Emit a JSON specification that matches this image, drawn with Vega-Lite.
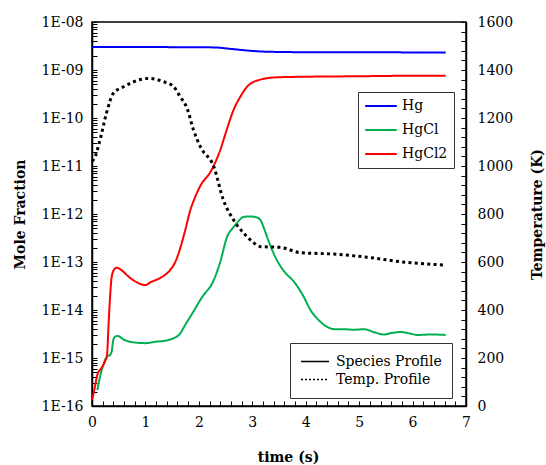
{
  "$schema": "https://vega.github.io/schema/vega-lite/v6.json",
  "width": 374,
  "height": 384,
  "autosize": {"type": "none"},
  "padding": {"left": 92, "top": 22, "right": 80, "bottom": 59},
  "background": "white",
  "config": {
    "font": "DejaVu Serif",
    "view": {"stroke": "black", "strokeWidth": 1.5},
    "axis": {
      "grid": false,
      "domainColor": "black",
      "domainWidth": 1.5,
      "tickColor": "black",
      "tickWidth": 1,
      "tickSize": -5,
      "labelColor": "black",
      "labelFont": "DejaVu Serif",
      "labelFontSize": 14,
      "labelOverlap": false,
      "labelBound": false,
      "labelFlush": false,
      "titleColor": "black",
      "titleFont": "DejaVu Serif",
      "titleFontSize": 14,
      "titleFontWeight": "bold"
    },
    "legend": {
      "labelFont": "DejaVu Serif",
      "labelColor": "black",
      "strokeColor": "#333",
      "fillColor": "white",
      "cornerRadius": 0
    }
  },
  "datasets": {
    "species": [
      {"species": "Hg", "t": 0, "fraction": 3.0e-9},
      {"species": "Hg", "t": 1, "fraction": 3.0e-9},
      {"species": "Hg", "t": 2, "fraction": 2.98e-9},
      {"species": "Hg", "t": 2.3, "fraction": 2.95e-9},
      {"species": "Hg", "t": 2.6, "fraction": 2.75e-9},
      {"species": "Hg", "t": 2.9, "fraction": 2.55e-9},
      {"species": "Hg", "t": 3.2, "fraction": 2.42e-9},
      {"species": "Hg", "t": 3.6, "fraction": 2.37e-9},
      {"species": "Hg", "t": 4.5, "fraction": 2.33e-9},
      {"species": "Hg", "t": 5.5, "fraction": 2.33e-9},
      {"species": "Hg", "t": 6.62, "fraction": 2.32e-9},

      {"species": "HgCl", "t": 0.1, "fraction": 2.14e-16},
      {"species": "HgCl", "t": 0.15, "fraction": 4.07e-16},
      {"species": "HgCl", "t": 0.2, "fraction": 6.61e-16},
      {"species": "HgCl", "t": 0.28, "fraction": 1.07e-15},
      {"species": "HgCl", "t": 0.34, "fraction": 1.17e-15},
      {"species": "HgCl", "t": 0.37, "fraction": 1.41e-15},
      {"species": "HgCl", "t": 0.4, "fraction": 2.40e-15},
      {"species": "HgCl", "t": 0.44, "fraction": 2.82e-15},
      {"species": "HgCl", "t": 0.48, "fraction": 2.88e-15},
      {"species": "HgCl", "t": 0.6, "fraction": 2.40e-15},
      {"species": "HgCl", "t": 0.75, "fraction": 2.14e-15},
      {"species": "HgCl", "t": 1.0, "fraction": 2.04e-15},
      {"species": "HgCl", "t": 1.2, "fraction": 2.19e-15},
      {"species": "HgCl", "t": 1.37, "fraction": 2.29e-15},
      {"species": "HgCl", "t": 1.5, "fraction": 2.51e-15},
      {"species": "HgCl", "t": 1.65, "fraction": 3.24e-15},
      {"species": "HgCl", "t": 1.75, "fraction": 5.01e-15},
      {"species": "HgCl", "t": 1.84, "fraction": 7.24e-15},
      {"species": "HgCl", "t": 2.05, "fraction": 1.78e-14},
      {"species": "HgCl", "t": 2.28, "fraction": 4.22e-14},
      {"species": "HgCl", "t": 2.4, "fraction": 1.0e-13},
      {"species": "HgCl", "t": 2.53, "fraction": 3.39e-13},
      {"species": "HgCl", "t": 2.63, "fraction": 5.01e-13},
      {"species": "HgCl", "t": 2.71, "fraction": 6.46e-13},
      {"species": "HgCl", "t": 2.84, "fraction": 8.71e-13},
      {"species": "HgCl", "t": 2.95, "fraction": 8.91e-13},
      {"species": "HgCl", "t": 3.08, "fraction": 8.51e-13},
      {"species": "HgCl", "t": 3.15, "fraction": 7.59e-13},
      {"species": "HgCl", "t": 3.22, "fraction": 5.01e-13},
      {"species": "HgCl", "t": 3.3, "fraction": 2.82e-13},
      {"species": "HgCl", "t": 3.46, "fraction": 1.10e-13},
      {"species": "HgCl", "t": 3.6, "fraction": 6.31e-14},
      {"species": "HgCl", "t": 3.78, "fraction": 3.89e-14},
      {"species": "HgCl", "t": 3.95, "fraction": 2.0e-14},
      {"species": "HgCl", "t": 4.09, "fraction": 1.0e-14},
      {"species": "HgCl", "t": 4.25, "fraction": 6.03e-15},
      {"species": "HgCl", "t": 4.4, "fraction": 4.47e-15},
      {"species": "HgCl", "t": 4.55, "fraction": 3.98e-15},
      {"species": "HgCl", "t": 4.71, "fraction": 3.98e-15},
      {"species": "HgCl", "t": 4.9, "fraction": 3.89e-15},
      {"species": "HgCl", "t": 5.09, "fraction": 3.98e-15},
      {"species": "HgCl", "t": 5.3, "fraction": 3.39e-15},
      {"species": "HgCl", "t": 5.46, "fraction": 3.09e-15},
      {"species": "HgCl", "t": 5.6, "fraction": 3.31e-15},
      {"species": "HgCl", "t": 5.78, "fraction": 3.47e-15},
      {"species": "HgCl", "t": 5.95, "fraction": 3.24e-15},
      {"species": "HgCl", "t": 6.09, "fraction": 3.02e-15},
      {"species": "HgCl", "t": 6.35, "fraction": 3.09e-15},
      {"species": "HgCl", "t": 6.62, "fraction": 3.02e-15},

      {"species": "HgCl2", "t": 0, "fraction": 1.33e-16},
      {"species": "HgCl2", "t": 0.05, "fraction": 2.37e-16},
      {"species": "HgCl2", "t": 0.1, "fraction": 4.47e-16},
      {"species": "HgCl2", "t": 0.19, "fraction": 6.46e-16},
      {"species": "HgCl2", "t": 0.25, "fraction": 8.91e-16},
      {"species": "HgCl2", "t": 0.28, "fraction": 1.12e-15},
      {"species": "HgCl2", "t": 0.31, "fraction": 5.01e-15},
      {"species": "HgCl2", "t": 0.34, "fraction": 2.0e-14},
      {"species": "HgCl2", "t": 0.37, "fraction": 5.01e-14},
      {"species": "HgCl2", "t": 0.42, "fraction": 7.08e-14},
      {"species": "HgCl2", "t": 0.47, "fraction": 7.59e-14},
      {"species": "HgCl2", "t": 0.55, "fraction": 6.76e-14},
      {"species": "HgCl2", "t": 0.7, "fraction": 4.79e-14},
      {"species": "HgCl2", "t": 0.85, "fraction": 3.72e-14},
      {"species": "HgCl2", "t": 1.0, "fraction": 3.31e-14},
      {"species": "HgCl2", "t": 1.1, "fraction": 3.80e-14},
      {"species": "HgCl2", "t": 1.28, "fraction": 4.68e-14},
      {"species": "HgCl2", "t": 1.46, "fraction": 6.76e-14},
      {"species": "HgCl2", "t": 1.55, "fraction": 9.55e-14},
      {"species": "HgCl2", "t": 1.62, "fraction": 1.51e-13},
      {"species": "HgCl2", "t": 1.73, "fraction": 3.98e-13},
      {"species": "HgCl2", "t": 1.84, "fraction": 1.20e-12},
      {"species": "HgCl2", "t": 1.93, "fraction": 2.24e-12},
      {"species": "HgCl2", "t": 2.02, "fraction": 3.72e-12},
      {"species": "HgCl2", "t": 2.24, "fraction": 8.32e-12},
      {"species": "HgCl2", "t": 2.4, "fraction": 2.14e-11},
      {"species": "HgCl2", "t": 2.52, "fraction": 5.62e-11},
      {"species": "HgCl2", "t": 2.65, "fraction": 1.48e-10},
      {"species": "HgCl2", "t": 2.78, "fraction": 2.82e-10},
      {"species": "HgCl2", "t": 2.9, "fraction": 4.47e-10},
      {"species": "HgCl2", "t": 3.02, "fraction": 5.62e-10},
      {"species": "HgCl2", "t": 3.15, "fraction": 6.31e-10},
      {"species": "HgCl2", "t": 3.35, "fraction": 6.92e-10},
      {"species": "HgCl2", "t": 3.52, "fraction": 7.08e-10},
      {"species": "HgCl2", "t": 4.0, "fraction": 7.24e-10},
      {"species": "HgCl2", "t": 5.0, "fraction": 7.41e-10},
      {"species": "HgCl2", "t": 6.0, "fraction": 7.59e-10},
      {"species": "HgCl2", "t": 6.62, "fraction": 7.59e-10}
    ],
    "temp": [
      {"t": 0, "T": 1020},
      {"t": 0.04, "T": 1030},
      {"t": 0.15, "T": 1108},
      {"t": 0.27, "T": 1220},
      {"t": 0.4, "T": 1303},
      {"t": 0.59, "T": 1330},
      {"t": 0.78, "T": 1351},
      {"t": 1.06, "T": 1365},
      {"t": 1.34, "T": 1351},
      {"t": 1.53, "T": 1330},
      {"t": 1.65, "T": 1289},
      {"t": 1.78, "T": 1240},
      {"t": 1.9, "T": 1150},
      {"t": 2.03, "T": 1080},
      {"t": 2.28, "T": 997},
      {"t": 2.46, "T": 858},
      {"t": 2.65, "T": 775},
      {"t": 2.84, "T": 720},
      {"t": 3.0, "T": 685},
      {"t": 3.15, "T": 664},
      {"t": 3.52, "T": 661},
      {"t": 3.9, "T": 639},
      {"t": 4.52, "T": 633},
      {"t": 5.15, "T": 620},
      {"t": 5.78, "T": 601},
      {"t": 6.62, "T": 587}
    ]
  },
  "encoding": {
    "x": {
      "field": "t", "type": "quantitative",
      "scale": {"domain": [0, 7], "nice": false},
      "axis": {
        "title": "time (s)",
        "values": [0,0.2,0.4,0.6,0.8,1,1.2,1.4,1.6,1.8,2,2.2,2.4,2.6,2.8,3,3.2,3.4,3.6,3.8,4,4.2,4.4,4.6,4.8,5,5.2,5.4,5.6,5.8,6,6.2,6.4,6.6,6.8,7],
        "labelExpr": "abs(datum.value - round(datum.value)) < 0.001 ? format(datum.value, 'd') : ''",
        "labelOverlap": false,
        "labelPadding": 14,
        "titleX": 196,
        "titleY": 51,
        "titleBaseline": "middle"
      }
    }
  },
  "layer": [
    {
      "data": {"name": "species"},
      "mark": {"type": "line", "strokeWidth": 2, "interpolate": "monotone"},
      "encoding": {
        "y": {
          "field": "fraction", "type": "quantitative",
          "scale": {"type": "log", "domain": [1e-16, 1e-8]},
          "axis": {
            "title": "Mole Fraction",
            "values": [1e-16,2e-16,3e-16,4e-16,5e-16,6e-16,7e-16,8e-16,9e-16,1e-15,2e-15,3e-15,4e-15,5e-15,6e-15,7e-15,8e-15,9e-15,1e-14,2e-14,3e-14,4e-14,5e-14,6e-14,7e-14,8e-14,9e-14,1e-13,2e-13,3e-13,4e-13,5e-13,6e-13,7e-13,8e-13,9e-13,1e-12,2e-12,3e-12,4e-12,5e-12,6e-12,7e-12,8e-12,9e-12,1e-11,2e-11,3e-11,4e-11,5e-11,6e-11,7e-11,8e-11,9e-11,1e-10,2e-10,3e-10,4e-10,5e-10,6e-10,7e-10,8e-10,9e-10,1e-9,2e-9,3e-9,4e-9,5e-9,6e-9,7e-9,8e-9,9e-9,1e-8],
            "labelExpr": "abs(log(datum.value)/LN10 - round(log(datum.value)/LN10)) < 0.001 ? '1E-' + (round(-log(datum.value)/LN10) < 10 ? '0' : '') + round(-log(datum.value)/LN10) : ''",
            "labelOverlap": false,
            "labelPadding": 14,
            "titleX": -72,
            "titleY": 192,
            "titleAngle": 270,
            "titleBaseline": "middle"
          }
        },
        "color": {
          "field": "species", "type": "nominal",
          "scale": {"domain": ["Hg", "HgCl", "HgCl2"], "range": ["#0000ff", "#00b050", "#ff0000"]},
          "legend": {
            "orient": "none", "legendX": 266, "legendY": 70,
            "title": null,
            "symbolType": "stroke", "symbolSize": 1000, "symbolStrokeWidth": 2,
            "clipHeight": 16,
            "labelFontSize": 14, "labelOffset": 4,
            "padding": 6, "rowPadding": 8
          }
        },
        "strokeDash": {
          "datum": "Species Profile", "type": "nominal",
          "scale": {"domain": ["Species Profile", "Temp. Profile"], "range": [[1, 0], [2, 2]]},
          "legend": {
            "orient": "none", "legendX": 198, "legendY": 321,
            "title": null,
            "symbolType": "stroke", "symbolSize": 784, "symbolStrokeWidth": 1.5,
            "symbolStrokeColor": "black",
            "clipHeight": 17,
            "labelFontSize": 14, "labelOffset": 6,
            "padding": 10, "rowPadding": 1
          }
        }
      }
    },
    {
      "data": {"name": "temp"},
      "mark": {"type": "line", "strokeWidth": 3, "color": "black", "strokeCap": "butt", "interpolate": "monotone", "strokeDash": [3, 3.3]},
      "encoding": {
        "y": {
          "field": "T", "type": "quantitative",
          "scale": {"domain": [0, 1600], "nice": false},
          "axis": {
            "orient": "right",
            "title": "Temperature (K)",
            "values": [0,40,80,120,160,200,240,280,320,360,400,440,480,520,560,600,640,680,720,760,800,840,880,920,960,1000,1040,1080,1120,1160,1200,1240,1280,1320,1360,1400,1440,1480,1520,1560,1600],
            "labelExpr": "datum.value % 200 == 0 ? format(datum.value, 'd') : ''",
            "labelOverlap": false,
            "labelPadding": 16,
            "titleX": 71,
            "titleY": 192,
            "titleAngle": 270,
            "titleBaseline": "middle"
          }
        }
      }
    }
  ],
  "resolve": {"scale": {"y": "independent"}}
}
